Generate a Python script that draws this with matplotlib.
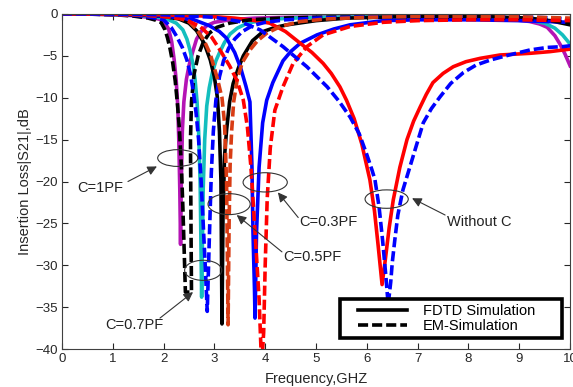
import matplotlib
matplotlib.use("Agg")
import matplotlib.pyplot as plt
from matplotlib.patches import Ellipse
from matplotlib.lines import Line2D
from matplotlib.legend_handler import HandlerLine2D

plt.rcParams['font.family'] = ['Liberation Sans', 'DejaVu Sans']

# C = 1 pF
f_1pf_fdtd = [0, 0.5, 1.0, 1.4, 1.7, 1.9, 2.0, 2.1, 2.16, 2.21, 2.25, 2.28, 2.3, 2.32, 2.335,
              2.35, 2.37, 2.4, 2.45, 2.5, 2.57, 2.65, 2.75, 2.85, 3.0, 3.3, 3.8, 4.5, 5.5, 6.5,
              7.5, 8.3, 8.9, 9.2, 9.4, 9.55, 9.7, 9.8, 9.9, 10]
s21_1pf_fdtd = [0, -0.02, -0.08, -0.2, -0.4, -0.6, -0.8, -1.8, -3.3, -5.5, -8, -11, -15, -21, -27.5,
                -20, -14, -10.5, -7.8, -6.2, -4.6, -3.0, -2.0, -1.4, -1.0, -0.7, -0.5, -0.4, -0.35, -0.35,
                -0.4, -0.5, -0.7, -0.9, -1.2, -1.6, -2.6, -3.6, -4.8, -6.2]
f_1pf_em = [0, 0.5, 1.0, 1.4, 1.7, 1.85, 1.95, 2.03, 2.08, 2.13, 2.18, 2.23, 2.27, 2.31, 2.35, 2.38,
            2.41, 2.43, 2.55, 2.54, 2.53, 2.55, 2.6, 2.68, 2.78, 2.9, 3.05, 3.3, 3.7, 4.3, 5, 6, 7,
            8, 9, 9.5, 10]
s21_1pf_em = [0, -0.02, -0.08, -0.25, -0.5, -0.75, -1.0, -1.9, -2.9, -4.2, -5.8, -8.0, -10.5, -13.5,
              -18, -23, -29, -33.2, -33.2, -25, -15, -10.5, -7.2, -5.0, -3.4, -2.3, -1.6, -1.1, -0.7,
              -0.5, -0.4, -0.35, -0.35, -0.4, -0.5, -0.7, -1.1]

# C = 0.7 pF
f_07pf_fdtd = [0, 0.5, 1.0, 1.5, 1.9, 2.1, 2.25, 2.38, 2.46, 2.52, 2.58, 2.62, 2.66, 2.69, 2.72, 2.75,
               2.78, 2.81, 2.85, 2.9, 2.96, 3.03, 3.11, 3.2, 3.31, 3.45, 3.65, 4.0, 4.5, 5.2, 6, 7, 8,
               8.8, 9.2, 9.5, 9.7, 9.85, 10]
s21_07pf_fdtd = [0, -0.02, -0.06, -0.15, -0.4, -0.7, -1.1, -1.9, -3.0, -4.3, -6.0, -7.8, -10.5, -14, -20,
                 -33.8, -21, -15, -11, -8.8, -7.0, -5.6, -4.5, -3.4, -2.4, -1.7, -1.1, -0.7, -0.5, -0.4,
                 -0.35, -0.35, -0.4, -0.55, -0.75, -1.1, -1.7, -2.5, -3.6]
f_07pf_em = [0, 0.5, 1.0, 1.5, 1.8, 2.0, 2.15, 2.26, 2.37, 2.46, 2.53, 2.59, 2.64, 2.69, 2.74, 2.78,
             2.82, 2.86, 2.9, 2.94, 2.98, 3.03, 3.1, 3.18, 3.28, 3.4, 3.55, 3.75, 4.0, 4.4, 5, 6, 7,
             8, 9, 9.5, 10]
s21_07pf_em = [0, -0.02, -0.07, -0.2, -0.45, -0.7, -1.6, -2.7, -4.0, -5.5, -7.2, -9.4, -11.8, -15, -20,
               -25, -30, -35.5, -27, -19, -14, -10.3, -7.5, -5.6, -4.1, -3.0, -2.1, -1.4, -1.0, -0.7,
               -0.5, -0.35, -0.3, -0.3, -0.35, -0.45, -0.6]

# C = 0.5 pF
f_05pf_fdtd = [0, 0.5, 1.0, 1.6, 2.0, 2.3, 2.5, 2.65, 2.8, 2.92, 3.0, 3.06, 3.1, 3.13, 3.15, 3.17,
               3.2, 3.24, 3.3, 3.37, 3.47, 3.57, 3.75, 3.96, 4.2, 4.43, 5.0, 5.6, 6.5, 7.5, 8.5, 9.2,
               9.6, 10]
s21_05pf_fdtd = [0, -0.02, -0.05, -0.15, -0.3, -0.6, -1.1, -2.0, -3.5, -5.5, -7.5, -10, -14, -20, -37,
                 -24, -17, -13.9, -10.5, -8.3, -6.5, -5.0, -3.2, -2.1, -1.6, -1.3, -0.8, -0.5, -0.35,
                 -0.3, -0.35, -0.5, -0.8, -1.3]
f_05pf_em = [0, 0.5, 1.0, 1.6, 2.0, 2.3, 2.5, 2.66, 2.8, 2.92, 3.05, 3.15, 3.2, 3.24, 3.27, 3.29,
             3.31, 3.34, 3.38, 3.45, 3.55, 3.7, 3.85, 4.03, 4.3, 4.69, 5.2, 6, 7, 8, 9, 10]
s21_05pf_em = [0, -0.02, -0.05, -0.15, -0.3, -0.5, -0.9, -1.9, -3.2, -4.8, -7.5, -10, -13, -20, -37.1,
               -25, -18, -14, -10.5, -7.8, -5.8, -4.3, -3.2, -2.3, -1.5, -0.9, -0.6, -0.4, -0.3, -0.3,
               -0.35, -0.5]

# C = 0.3 pF
f_03pf_fdtd = [0, 0.5, 1.0, 1.6, 2.1, 2.6, 2.9, 3.1, 3.24, 3.4, 3.52, 3.62, 3.7, 3.74, 3.76, 3.79,
               3.8, 3.81, 3.83, 3.88, 3.95, 4.03, 4.15, 4.35, 4.5, 4.69, 5.02, 5.35, 5.67, 6.32, 7,
               8, 9, 9.5, 10]
s21_03pf_fdtd = [0, -0.02, -0.05, -0.12, -0.3, -0.7, -1.4, -2.1, -2.9, -4.6, -6.5, -8.6, -10.5, -18.3,
                 -26, -33, -36.3, -33, -26, -18.3, -13, -10.3, -8.2, -5.6, -4.5, -3.5, -2.5, -1.8, -1.3,
                 -0.8, -0.7, -0.7, -0.8, -0.9, -1.0]
f_03pf_em = [0, 0.5, 1.0, 1.6, 2.0, 2.4, 2.72, 2.95, 3.11, 3.3, 3.45, 3.57, 3.65, 3.72, 3.8, 3.88,
             3.93, 3.97, 4.0, 4.04, 4.1, 4.19, 4.35, 4.55, 4.82, 5.14, 5.67, 6.32, 7, 8, 9, 10]
s21_03pf_em = [0, -0.02, -0.05, -0.12, -0.3, -0.6, -1.5, -2.8, -4.3, -6.2, -8.0, -10.3, -13.5, -18.3,
               -26, -34, -42, -38, -30, -22, -16, -11.5, -8.7, -5.9, -3.9, -2.5, -1.5, -1.0, -0.8,
               -0.7, -0.7, -0.8]

# without C
f_noc_fdtd = [0, 1, 2, 2.8, 3.4, 3.8, 4.09, 4.4, 4.69, 4.92, 5.14, 5.3, 5.47, 5.6, 5.75, 5.9, 6.06,
              6.15, 6.22, 6.3, 6.36, 6.44, 6.52, 6.65, 6.79, 6.92, 7.05, 7.17, 7.3, 7.5, 7.7, 7.95,
              8.23, 8.62, 9.21, 9.6, 10]
s21_noc_fdtd = [0, -0.02, -0.1, -0.25, -0.5, -0.8, -1.1, -2.1, -3.5, -4.6, -5.9, -7.1, -8.7, -10.3,
                -12.5, -15.5, -19.8, -23.5, -27.5, -32.3, -29.5, -25.5, -22.2, -18.3, -15, -12.8, -11.1,
                -9.6, -8.2, -7.1, -6.3, -5.7, -5.3, -4.9, -4.7, -4.5, -4.2]
f_noc_em = [0, 1, 2, 3, 3.5, 3.9, 4.35, 4.82, 5.22, 5.45, 5.67, 5.85, 6.0, 6.1, 6.16, 6.24, 6.31,
            6.37, 6.42, 6.47, 6.5, 6.55, 6.61, 6.71, 6.81, 6.91, 7.01, 7.11, 7.27, 7.44, 7.65, 7.9,
            8.15, 8.43, 8.8, 9.21, 9.55, 9.86, 10]
s21_noc_em = [0, -0.02, -0.1, -0.4, -0.9, -1.9, -3.9, -6.3, -8.7, -10.4, -12.3, -14.3, -16.8, -18.6,
              -19.8, -23, -27, -31, -34.7, -32, -29.7, -27, -24, -21, -19, -17, -15, -13, -11.3, -9.9,
              -8.3, -7.0, -6.1, -5.5, -4.9, -4.3, -4.0, -3.9, -3.8]

# annotations: label, text pos, arrow tail/tip, ellipse centre, ellipse size
ann_labels = ['C=1PF', 'C=0.7PF', 'C=0.5PF', 'C=0.3PF', 'Without C']
ann_text_xy = [(0.75, -20.8), (1.42, -37.1), (4.92, -29.0), (5.24, -24.8), (8.21, -24.8)]
ann_tail_xy = [(1.3, -20.0), (1.93, -36.3), (4.33, -28.4), (4.65, -24.3), (7.54, -24.0)]
ann_tip_xy = [(1.87, -18.2), (2.58, -33.2), (3.44, -24.0), (4.25, -21.3), (6.89, -22.0)]
ell_xy = [(2.28, -17.2), (2.78, -30.6), (3.29, -22.7), (4.0, -20.1), (6.39, -22.1)]
ell_wh = [(0.79, 2.0), (0.73, 2.4), (0.83, 2.5), (0.87, 2.3), (0.85, 2.2)]

magenta = '#b414b4'
cyan = '#14bebe'
orange = '#d83c14'
dash = (2.8, 1.1)
lw = 2.6

fig = plt.figure(figsize=(5.73, 3.87), dpi=100)
ax = fig.add_axes([0.108, 0.098, 0.887, 0.866])

solid = [(f_1pf_fdtd, s21_1pf_fdtd, magenta),
         (f_07pf_fdtd, s21_07pf_fdtd, cyan),
         (f_05pf_fdtd, s21_05pf_fdtd, 'black'),
         (f_03pf_fdtd, s21_03pf_fdtd, 'blue'),
         (f_noc_fdtd, s21_noc_fdtd, 'red')]
dashed = [(f_1pf_em, s21_1pf_em, 'black'),
          (f_07pf_em, s21_07pf_em, 'blue'),
          (f_05pf_em, s21_05pf_em, orange),
          (f_03pf_em, s21_03pf_em, 'red'),
          (f_noc_em, s21_noc_em, 'blue')]
for f, s, c in solid:
    ax.plot(f, s, color=c, lw=lw, solid_joinstyle='round')
for f, s, c in dashed:
    ax.plot(f, s, color=c, lw=lw, linestyle=(0, dash))

for lab, txy, tail, tip, exy, (w, h) in zip(ann_labels, ann_text_xy, ann_tail_xy, ann_tip_xy, ell_xy, ell_wh):
    ax.add_patch(Ellipse(exy, w, h, fill=False, ec='#333333', lw=0.8, zorder=5))
    ax.annotate('', xy=tip, xytext=tail,
                arrowprops=dict(arrowstyle='-|>', color='#333333', lw=0.8,
                                mutation_scale=14, shrinkA=0, shrinkB=0), zorder=5)
    ax.text(txy[0], txy[1], lab, fontsize=10.5, color='#222222', ha='center', va='center', zorder=5)

ax.set_xlim(0, 10)
ax.set_ylim(-40, 0)
ax.set_xticks(range(0, 11))
ax.set_yticks(range(-40, 1, 5))
ax.tick_params(direction='in', top=True, right=True, length=4, width=0.8,
               labelsize=9.5, colors='#262626', pad=3)
for sp in ax.spines.values():
    sp.set_color('#404040')
    sp.set_linewidth(0.8)
ax.set_xlabel('Frequency,GHZ', fontsize=10.5, color='#262626', labelpad=5)
ax.set_ylabel('Insertion Loss|S21|,dB', fontsize=10.5, color='#262626', labelpad=2)

handles = [Line2D([], [], color='black', lw=2.6),
           Line2D([], [], color='black', lw=2.6, linestyle=(0, dash))]
leg = ax.legend(handles, ['FDTD Simulation', 'EM-Simulation'], loc='lower left',
                bbox_to_anchor=(0.547, 0.033, 0.437, 0.13), mode='expand', borderaxespad=0,
                fontsize=10.5, handlelength=4.25, handletextpad=1.1, labelspacing=0.05,
                borderpad=0.35, fancybox=False, framealpha=1,
                handler_map={Line2D: HandlerLine2D(xpad=0.9)})
leg.get_frame().set_edgecolor('black')
leg.get_frame().set_linewidth(2.6)

fig.savefig('out.png', dpi=100)
